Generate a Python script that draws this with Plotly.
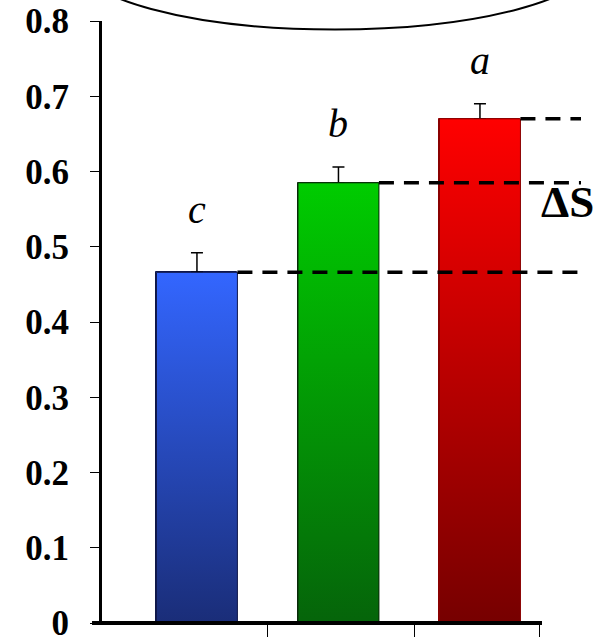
import plotly.graph_objects as go

# ---- data ----
groups = ["c", "b", "a"]            # significance letters, one per bar
values = [0.466, 0.585, 0.670]
errors = [0.026, 0.021, 0.020]
top_colors = ["#3366ff", "#00cc00", "#ff0000"]
bottom_colors = ["#1a2d78", "#05640a", "#760000"]
outline_colors = ["#10184a", "#0a2a0a", "#8a0000"]
y_ticks = [0, 0.1, 0.2, 0.3, 0.4, 0.5, 0.6, 0.7, 0.8]
delta_label = "ΔS"

# ---- layout constants ----
FONT = "Liberation Serif, Times New Roman, serif"
BAR_W = 0.572
X_RANGE = [-0.671, 2.82]
X_TICKS = [-0.678, 0.495, 1.534, 2.424]
DASH_END = 2.714

xs = list(range(len(values)))
fig = go.Figure()

# base bars (carry the error bars)
fig.add_trace(go.Bar(
    x=xs, y=values, width=BAR_W,
    marker=dict(color=top_colors, line=dict(color=outline_colors, width=1)),
    error_y=dict(type="data", symmetric=False, array=errors,
                 arrayminus=[0] * len(values), color="black",
                 thickness=1.5, width=6),
    showlegend=False, hoverinfo="skip",
))

# gradient fill overlay for each bar
for i, v in enumerate(values):
    x0, x1 = i - BAR_W / 2, i + BAR_W / 2
    fig.add_trace(go.Scatter(
        x=[x0, x1, x1, x0, x0], y=[0, 0, v, v, 0],
        mode="lines", fill="toself",
        line=dict(color=outline_colors[i], width=1),
        fillgradient=dict(type="vertical",
                          colorscale=[[0, bottom_colors[i]], [1, top_colors[i]]]),
        showlegend=False, hoverinfo="skip",
    ))

# dashed reference lines
for i, v in enumerate(values):
    fig.add_trace(go.Scatter(
        x=[i + BAR_W / 2, DASH_END], y=[v, v], mode="lines",
        line=dict(color="black", width=3.5, dash="15px,10px"),
        showlegend=False, hoverinfo="skip",
    ))

# significance letters
for i, (g, v, e) in enumerate(zip(groups, values, errors)):
    fig.add_annotation(x=i, y=v + e + 0.058, text=f"<i>{g}</i>",
                       showarrow=False, yanchor="middle",
                       font=dict(family=FONT, size=40, color="black"))

fig.add_annotation(x=2.62, y=0.56, text=f"<b>{delta_label}</b>", showarrow=False,
                   yanchor="middle", xanchor="center",
                   font=dict(family=FONT, size=45, color="black"))

# x axis line (extends a bit left of y axis)
fig.add_shape(type="line", xref="paper", yref="paper", x0=-0.0202, x1=0.8907,
              y0=0, y1=0, line=dict(color="black", width=4), layer="above")

# ellipse at top
fig.add_shape(type="circle", xref="paper", yref="paper",
              x0=-0.0547, x1=0.998, y0=0.9859, y1=1.2185,
              line=dict(color="black", width=2), layer="above")

fig.update_layout(
    width=596, height=638,
    margin=dict(l=102, r=0, t=21, b=15, autoexpand=False),
    paper_bgcolor="white", plot_bgcolor="white",
    bargap=0,
    xaxis=dict(range=X_RANGE, showline=False, showgrid=False, zeroline=False,
               tickmode="array", tickvals=X_TICKS, ticks="outside",
               ticklen=13, tickwidth=1, tickcolor="black",
               showticklabels=False, automargin=False),
    yaxis=dict(range=[0, 0.8], tickmode="array", tickvals=y_ticks,
               ticktext=[f"{t:g}" for t in y_ticks],
               showline=True, linewidth=3, linecolor="black",
               ticks="outside", ticklen=9, tickwidth=1, tickcolor="black",
               showgrid=False, zeroline=False, ticklabelstandoff=14,
               ticklabeloverflow="allow", automargin=False,
               tickfont=dict(family=FONT, size=35, color="black", weight="bold")),
)

fig.write_html(
    "out.html", config={"displayModeBar": False},
    post_script=(
        "document.documentElement.style.overflow='hidden';"
        "document.body.style.overflow='hidden';"
        "document.body.style.margin='0';document.body.style.padding='0';"
    ),
)
